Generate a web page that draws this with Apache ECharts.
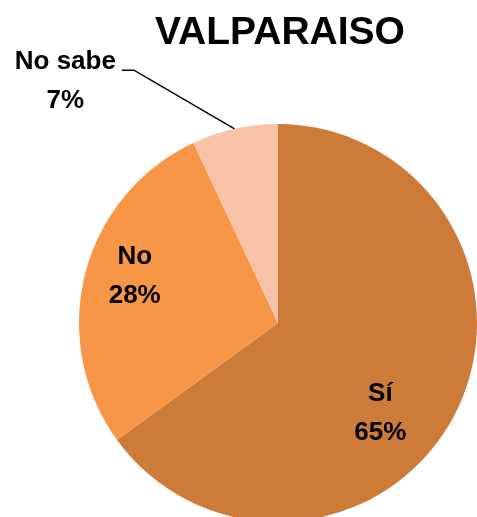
<!DOCTYPE html>
<html>
<head>
<meta charset="utf-8">
<script src="https://cdn.jsdelivr.net/npm/echarts@6/dist/echarts.min.js"></script>
<style>
  html, body { margin: 0; padding: 0; background: #fff; }
  #charts { width: 477px; height: 517px; }
</style>
</head>
<body>
<div id="charts"></div>
<script>
// datos del gráfico
var titulo = 'VALPARAISO';
var categorias = ['Sí', 'No', 'No sabe'];
var valores = [65, 28, 7];
var colores = ['#CD7B39', '#F79646', '#F9C3A8'];
// desplazamiento de cada etiqueta respecto a la posición por defecto
var desplazX = [11, -44, -149];
var desplazY = [44, -21, -33];

var myChart = echarts.init(document.getElementById('charts'));

function datosPie() {
    var arr = [];
    categorias.forEach(function (nombre, i) {
        var item = { name: nombre, value: valores[i], itemStyle: { color: colores[i] } };
        if (i == 2) {
            item.label = { position: 'outside' };
            item.labelLine = { show: true, length: 15, length2: 12, lineStyle: { color: '#000', width: 1.5 } };
        }
        arr.push(item);
    });
    return arr;
}

/*
 ** mueve la etiqueta; para la exterior, rehace la línea guía
 */
function moverEtiqueta(p) {
    var i = p.dataIndex;
    var res = { dx: desplazX[i], dy: desplazY[i] };
    if (i == 2 && p.labelLinePoints) {
        var r = p.labelRect;
        var derecha = r.x + r.width + desplazX[i] + r.width / 2;
        var y = r.y + r.height / 2 + desplazY[i] - 11;
        res.align = 'center';
        res.labelLinePoints = [
            p.labelLinePoints[0],
            [derecha + 18, y],
            [derecha + 6, y]
        ];
    }
    return res;
}

var option = {
    backgroundColor: '#fff',
    animation: false,
    title: {
        text: titulo,
        left: 150,
        top: 9,
        textStyle: { fontFamily: 'Liberation Sans', fontWeight: 'bold', fontSize: 39, color: '#000' }
    },
    series: [{
        type: 'pie',
        center: [278, 323],
        radius: [0, 199],
        startAngle: 90,
        clockwise: true,
        avoidLabelOverlap: false,
        data: datosPie(),
        label: {
            show: true,
            position: 'inside',
            formatter: function (p) { return p.name + '\n' + p.value + '%'; },
            fontFamily: 'Liberation Sans',
            fontWeight: 'bold',
            fontSize: 26,
            lineHeight: 39,
            color: '#000',
            align: 'center'
        },
        labelLine: { show: false },
        labelLayout: moverEtiqueta,
        emphasis: { disabled: true }
    }]
};

myChart.setOption(option);
</script>
</body>
</html>
